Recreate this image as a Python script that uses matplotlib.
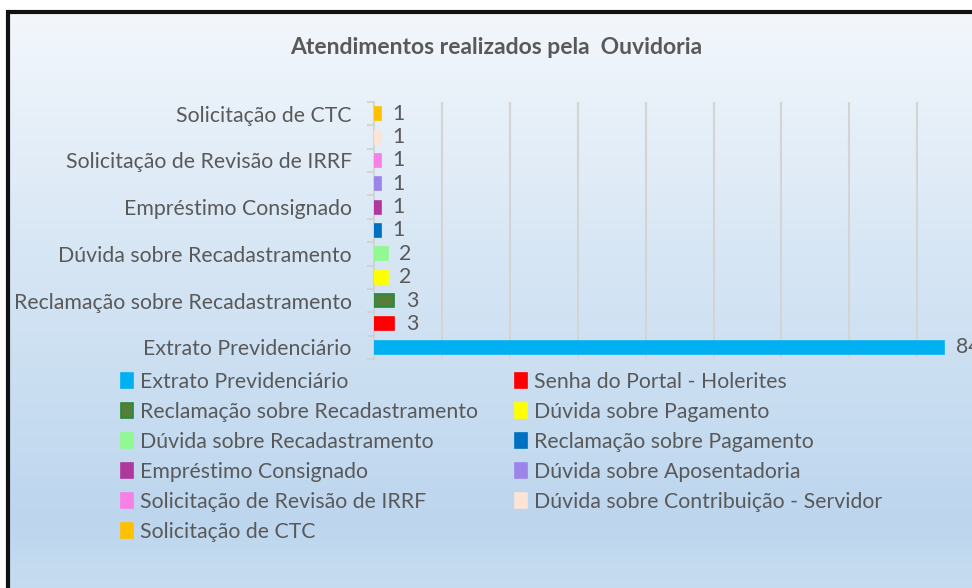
import numpy as np
import matplotlib
matplotlib.use("Agg")
import matplotlib.pyplot as plt
from matplotlib.patches import Patch
from matplotlib.colors import LinearSegmentedColormap

categories = [
    "Extrato Previdenciário",
    "Senha do Portal - Holerites",
    "Reclamação sobre Recadastramento",
    "Dúvida sobre Pagamento",
    "Dúvida sobre Recadastramento",
    "Reclamação sobre Pagamento",
    "Empréstimo Consignado",
    "Dúvida sobre Aposentadoria",
    "Solicitação de Revisão de IRRF",
    "Dúvida sobre Contribuição - Servidor",
    "Solicitação de CTC",
]
values = [84, 3, 3, 2, 2, 1, 1, 1, 1, 1, 1]
colors = ["#00b0f0", "#ff0000", "#557f38", "#ffff00", "#92f892", "#0070c0",
          "#b0379c", "#9d84e8", "#f87fe4", "#fce4d6", "#ffc000"]
edges = ["#00b0f0", "#ff0000", "#1f8a3c", "#ffff00", "#92f892", "#0070c0",
         "#b0379c", "#9d84e8", "#f87fe4", "#fce4d6", "#ffc000"]
title = "Atendimentos realizados pela  Ouvidoria"

FONT = ["Lato", "DejaVu Sans"]
plt.rcParams['font.family'] = FONT
TXT = "#595959"
FS = 15.3

W, H = 972, 588
fig = plt.figure(figsize=(W / 100, H / 100), dpi=100)
fig.patch.set_facecolor("white")

# background gradient inside the frame
bg = fig.add_axes([0, 0, 1, 1], zorder=-10)
bg.set_xlim(0, W)
bg.set_ylim(H, 0)
bg.axis("off")
cmap = LinearSegmentedColormap.from_list(
    "g", [(0, "#f3f7fc"), (0.45, "#d5e5f4"), (0.88, "#bdd6ee"), (1.0, "#c6dcf0")])
grad = np.linspace(0, 1, 256).reshape(-1, 1)
bg.imshow(grad, cmap=cmap, aspect="auto", extent=[7, W, H, 11], interpolation="bicubic")
bg.plot([7.5, 7.5], [11, H], color="#111111", lw=3, solid_capstyle="butt")
bg.plot([6, W], [11.5, 11.5], color="#111111", lw=3, solid_capstyle="butt")

# main axes
left_px, right_px, top_px, bot_px = 374, 972, 102, 359
ax = fig.add_axes([left_px / W, 1 - bot_px / H, (right_px - left_px) / W, (bot_px - top_px) / H])
ax.set_facecolor("none")
y = np.arange(len(categories))
bars = ax.barh(y, values, height=0.56, color=colors, edgecolor=edges, linewidth=1.2, zorder=3)
xmax = (right_px - left_px) / 6.79
ax.set_xlim(0, xmax)
ax.set_ylim(-0.5, len(categories) - 0.5)

for v, yy in zip(values, y):
    ax.text(v + 1.7, yy, str(v), va="center", ha="left", fontsize=FS, color=TXT, clip_on=False)

ax.set_xticks(np.arange(10, 90, 10))
ax.xaxis.grid(True, color="#d4d4d4", lw=1.5, zorder=0)
ax.tick_params(axis="x", length=0, labelbottom=False)
ax.set_yticks(y[::2])
ax.set_yticklabels([categories[i] for i in y[::2]], fontsize=FS, color=TXT)
ax.set_yticks(np.arange(-0.5, len(categories), 1), minor=True)
ax.tick_params(axis="y", which="major", length=0, pad=16)
ax.tick_params(axis="y", which="minor", length=5, color="#d0d0d0", width=1.2)
for s in ["top", "right", "bottom"]:
    ax.spines[s].set_visible(False)
ax.spines["left"].set_color("#d0d0d0")
ax.spines["left"].set_linewidth(1.2)

fig.text(496 / W, 1 - 47 / H, title, ha="center", va="center", fontsize=16.5,
         fontweight="bold", color=TXT)

# legend, row-major ordering
handles = [Patch(facecolor=c, edgecolor=e, linewidth=1.2) for c, e in zip(colors, edges)]
order = list(range(0, 11, 2)) + list(range(1, 11, 2))
leg = fig.legend([handles[i] for i in order], [categories[i] for i in order],
                 ncol=2, loc="upper left", bbox_to_anchor=(121 / W, 1 - 372 / H),
                 frameon=False, fontsize=FS, handlelength=0.55, handleheight=0.65,
                 handletextpad=0.35, columnspacing=1.75, labelspacing=0.47,
                 borderaxespad=0, borderpad=0)
for t in leg.get_texts():
    t.set_color(TXT)

fig.savefig("out.png", dpi=100)
